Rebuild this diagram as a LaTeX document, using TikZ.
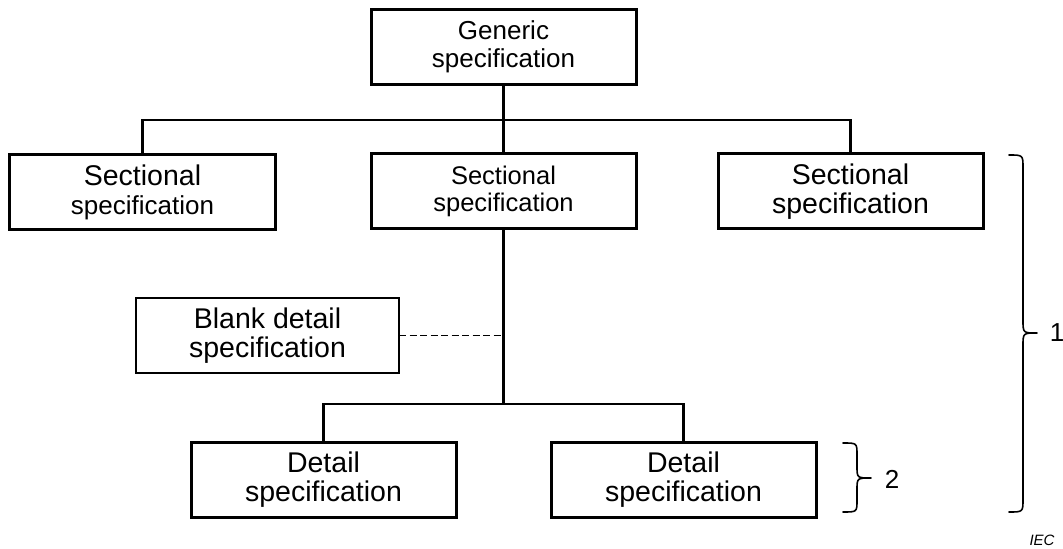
\documentclass[tikz,border=0pt]{standalone}
\usepackage{fontspec}
\setmainfont{Liberation Sans}
\newcommand\fsA{\fontsize{26bp}{27.5bp}\selectfont}
\newcommand\fsB{\fontsize{28.5bp}{29.5bp}\selectfont}
\newcommand\fsC{\fontsize{25.5bp}{28bp}\selectfont}
\begin{document}
\begin{tikzpicture}[x=1bp,y=-1bp,
  box/.style={draw,line width=3bp,minimum width=265bp,minimum height=75bp,inner sep=0pt,outer sep=0pt,align=center},
  thinbox/.style={box,line width=2bp,minimum width=263bp},
  thickline/.style={line width=3.2bp},
  busline/.style={line width=2.5bp},
  dashline/.style={line width=1.7bp,dash pattern=on 7bp off 3.5bp},
  bracestyle/.style={line width=1.6bp,line join=round,line cap=round},
  lbl/.style={inner sep=0pt}]
\useasboundingbox (0,0) rectangle (1063,549);
% boxes
\node[box,font=\fsA] (gen) at (503.5,47) {Generic\\specification};
\node[box,font=\fsA] (ls) at (142.5,192.5) {{\fontsize{28.5bp}{30bp}\selectfont Sectional}\\[1bp]specification};
\node[box,font=\fsC] (ms) at (503.5,191.5) {Sectional\\[-1bp]specification};
\node[box,font=\fsB] (rs) at (850.5,191.5) {Sectional\\specification};
\node[thinbox,font=\fsB] (blank) at (267.5,335.5) {Blank detail\\specification};
\node[box,font=\fsB] (d1) at (323.5,479.5) {Detail\\specification};
\node[box,font=\fsB] (d2) at (683.5,479.5) {Detail\\specification};
% bus coordinates
\coordinate (bus) at (503.5,120);
\coordinate (bus2) at (503.5,404);
% connectors
\draw[thickline] (gen.south) -- (bus);
\draw[busline] (ls.north) |- (bus) -| (rs.north);
\draw[busline] (bus) -- (ms.north);
\draw[thickline] (ms.south) -- (bus2);
\draw[busline] (d1.north) |- (bus2) -| (d2.north);
\draw[dashline] (blank.east) -- (blank.east -| ms.south);
% braces
\draw[bracestyle] (1009,155) .. controls (1023,155) .. (1023,168) -- (1023,320)
  .. controls (1023,333) .. (1037,333) .. controls (1023,333) .. (1023,346)
  -- (1023,499) .. controls (1023,512) .. (1009,512);
\draw[bracestyle] (843,443) .. controls (857,443) .. (857,455) -- (857,466)
  .. controls (857,478) .. (871,478) .. controls (857,478) .. (857,490)
  -- (857,500) .. controls (857,512) .. (843,512);
\node[lbl,font=\fsA] (one) at (1057,333) {1};
\node[lbl,font=\fsA] (two) at (892,479) {2};
\node[lbl,font=\fontsize{15bp}{16bp}\selectfont\itshape] (iec) at (1042,540) {IEC};
\end{tikzpicture}
\end{document}
